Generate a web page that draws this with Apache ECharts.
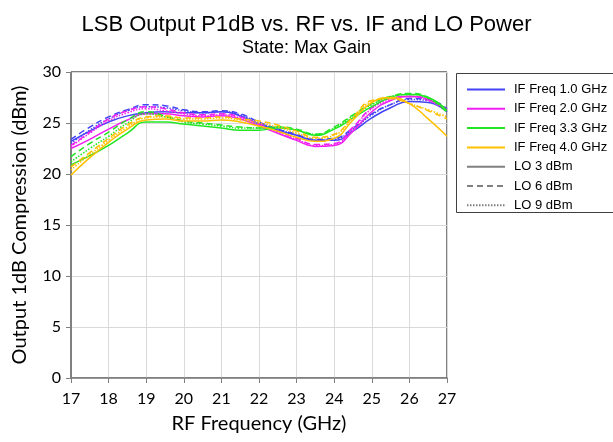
<!DOCTYPE html>
<html>
<head>
<meta charset="utf-8">
<script src="https://cdn.jsdelivr.net/npm/echarts@6/dist/echarts.min.js"></script>
<style>
  html, body { margin: 0; padding: 0; background: #fff; }
  #chart { width: 613px; height: 442px; }
</style>
</head>
<body>
<div id="chart"></div>
<script>
// RF frequency sweep points (GHz)
const rfGHz = [17, 17.5, 18, 18.5, 19, 19.5, 20, 20.5, 21, 21.5, 22, 22.5, 23, 23.5, 24, 24.5, 25, 25.5, 26, 26.5, 27];

// Output P1dB (dBm), IF 1.0 GHz at LO 3 / 6 / 9 dBm
const if10_lo3 = [23.2, 24.2, 25.1, 25.7, 26.0, 26.1, 26.0, 26.0, 26.1, 25.7, 24.9, 24.3, 23.8, 23.3, 23.3, 24.2, 25.5, 26.5, 27.1, 27.0, 26.1];
const if10_lo6 = [23.4, 24.6, 25.6, 26.3, 26.8, 26.7, 26.3, 26.1, 26.2, 25.9, 25.1, 24.4, 23.9, 23.4, 23.5, 24.5, 25.9, 26.8, 27.4, 27.3, 26.4];
const if10_lo9 = [23.0, 24.3, 25.4, 26.2, 26.6, 26.5, 26.2, 26.0, 26.1, 25.8, 25.0, 24.4, 23.8, 23.3, 23.4, 24.4, 25.8, 26.8, 27.3, 27.2, 26.3];

// IF 2.0 GHz
const if20_lo3 = [22.5, 23.4, 24.4, 25.3, 25.9, 25.9, 25.7, 25.6, 25.7, 25.4, 24.7, 24.0, 23.3, 22.7, 22.8, 24.2, 26.1, 27.2, 27.6, 27.3, 26.2];
const if20_lo6 = [22.8, 24.1, 25.4, 26.2, 26.6, 26.4, 26.0, 25.8, 25.9, 25.6, 24.9, 24.2, 23.5, 22.9, 23.0, 24.6, 26.5, 27.4, 27.6, 27.3, 26.3];
const if20_lo9 = [22.7, 24.0, 25.2, 26.0, 26.4, 26.2, 25.9, 25.7, 25.8, 25.5, 24.8, 24.1, 23.4, 22.8, 22.9, 24.5, 26.4, 27.3, 27.6, 27.2, 26.2];

// IF 3.3 GHz
const if33_lo3 = [20.9, 21.8, 22.8, 24.0, 25.1, 25.1, 24.9, 24.7, 24.5, 24.3, 24.3, 24.5, 24.3, 23.8, 24.4, 25.5, 26.6, 27.5, 27.8, 27.5, 26.2];
const if33_lo6 = [21.7, 23.0, 24.1, 25.3, 26.1, 25.7, 25.2, 25.0, 24.8, 24.6, 24.5, 24.6, 24.4, 23.9, 24.6, 25.8, 26.9, 27.6, 27.9, 27.5, 26.0];
const if33_lo9 = [21.2, 22.5, 23.7, 25.0, 25.9, 25.6, 25.1, 24.9, 24.7, 24.5, 24.5, 24.6, 24.3, 23.9, 24.5, 25.7, 26.8, 27.6, 27.8, 27.4, 26.1];

// IF 4.0 GHz
const if40_lo3 = [19.9, 21.6, 23.1, 24.4, 25.3, 25.4, 25.2, 25.2, 25.3, 25.1, 24.7, 24.2, 23.6, 23.2, 23.5, 25.3, 27.0, 27.5, 26.9, 25.4, 23.7];
const if40_lo6 = [20.7, 22.1, 23.5, 24.8, 25.6, 25.7, 25.5, 25.5, 25.6, 25.4, 25.2, 24.8, 24.2, 23.6, 23.9, 25.6, 27.2, 27.4, 26.9, 26.2, 25.4];
const if40_lo9 = [20.4, 21.9, 23.3, 24.6, 25.5, 25.6, 25.4, 25.4, 25.5, 25.3, 25.0, 24.6, 24.0, 23.5, 23.8, 25.5, 27.1, 27.4, 26.9, 26.3, 25.6];

const ifNames = ['IF Freq 1.0 GHz', 'IF Freq 2.0 GHz', 'IF Freq 3.3 GHz', 'IF Freq 4.0 GHz'];
const loNames = ['LO 3 dBm', 'LO 6 dBm', 'LO 9 dBm'];
const ifColors = ['#4343f7', '#f020f0', '#22e622', '#ffc000'];
const loDash = ['solid', [6, 4], [1.5, 1.5]];
const xTicks = [17, 27, 1];
const yTicks = [0, 30, 5];

const curves = [
  [if10_lo3, if10_lo6, if10_lo9],
  [if20_lo3, if20_lo6, if20_lo9],
  [if33_lo3, if33_lo6, if33_lo9],
  [if40_lo3, if40_lo6, if40_lo9]
];

const series = [];
curves.forEach((group, i) => {
  group.forEach((vals, j) => {
    series.push({
      name: ifNames[i] + ' / ' + loNames[j],
      type: 'line',
      smooth: 0.5,
      symbol: 'none',
      silent: true,
      lineStyle: { color: ifColors[i], width: 1.5, type: loDash[j] },
      data: rfGHz.map((x, k) => [x, vals[k]])
    });
  });
});

// Key entries: colour per IF frequency, dash per LO power
ifNames.forEach((n, i) => {
  series.push({ name: n, type: 'line', symbol: 'none', data: [],
    lineStyle: { color: ifColors[i], width: 1.5, type: 'solid' } });
});
loNames.forEach((n, j) => {
  series.push({ name: n, type: 'line', symbol: 'none', data: [],
    lineStyle: { color: '#808080', width: 1.2, type: loDash[j] } });
});

const tickFont = 'Lato, "Open Sans", sans-serif';
const textFont = '"Liberation Sans", Arial, sans-serif';

const chart = echarts.init(document.getElementById('chart'), null, { renderer: 'canvas' });
chart.setOption({
  animation: false,
  backgroundColor: '#fff',
  title: [
    { text: 'LSB Output P1dB vs. RF vs. IF and LO Power', left: 'center', top: 9,
      textStyle: { fontFamily: textFont, fontSize: 22, fontWeight: 'normal', color: '#000' } },
    { text: 'State: Max Gain', left: 'center', top: 34,
      textStyle: { fontFamily: textFont, fontSize: 18, fontWeight: 'normal', color: '#000' } }
  ],
  // frame around the key, running off the right edge
  graphic: [{
    type: 'rect', left: 456, top: 73, silent: true, z: 0,
    shape: { width: 200, height: 139 },
    style: { fill: '#fff', stroke: '#404040', lineWidth: 1 }
  }],
  grid: { left: 71, top: 72, width: 376, height: 306, show: true, borderColor: '#000', borderWidth: 1, backgroundColor: 'transparent' },
  legend: {
    data: ifNames.concat(loNames),
    orient: 'vertical',
    left: 456, top: 73,
    padding: [10, 0, 6, 10],
    itemWidth: 38, itemHeight: 10, itemGap: 6.3,
    selectedMode: false,
    itemStyle: { color: 'rgba(0,0,0,0)', borderColor: 'rgba(0,0,0,0)', borderWidth: 0, opacity: 0 },
    textStyle: { fontFamily: textFont, fontSize: 13, color: '#000', lineHeight: 12, padding: [0, 0, 0, 4] }
  },
  xAxis: {
    type: 'value', min: xTicks[0], max: xTicks[1], interval: xTicks[2],
    name: 'RF Frequency (GHz)', nameLocation: 'middle', nameGap: 36,
    nameTextStyle: { fontFamily: tickFont, fontSize: 20, color: '#000' },
    axisLine: { lineStyle: { color: '#808080', width: 1.5 } },
    axisTick: { show: true, length: 5, lineStyle: { color: '#808080' } },
    axisLabel: { fontFamily: tickFont, fontSize: 16, color: '#000', margin: 13 },
    splitLine: { show: true, lineStyle: { color: '#d9d9d9', width: 1 } }
  },
  yAxis: {
    type: 'value', min: yTicks[0], max: yTicks[1], interval: yTicks[2],
    name: 'Output 1dB Compression (dBm)', nameLocation: 'middle', nameGap: 41,
    nameTextStyle: { fontFamily: tickFont, fontSize: 20, color: '#000' },
    axisLine: { show: true, lineStyle: { color: '#808080', width: 1 } },
    axisTick: { show: true, length: 5, lineStyle: { color: '#808080' } },
    axisLabel: { fontFamily: tickFont, fontSize: 16, color: '#000', margin: 10 },
    splitLine: { show: true, lineStyle: { color: '#d9d9d9', width: 1 } }
  },
  series: series
});
</script>
</body>
</html>
